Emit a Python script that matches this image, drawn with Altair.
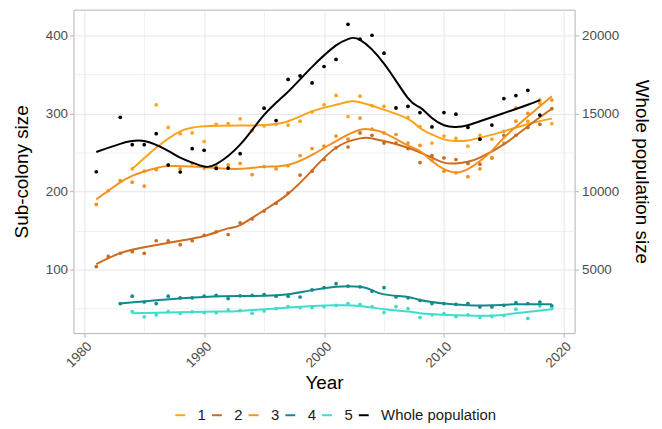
import altair as alt
import pandas as pd

# ---------------- data ----------------
series_names = ["1", "2", "3", "4", "5", "Whole population"]
series_colors = ["#FAA41B", "#CC6A1F", "#F4911E", "#118A8C", "#3FDDCC", "#000000"]

# observed sub-colony sizes
years_s1 = list(range(1984, 2020))
pts_s1 = [229, 226, 311, 282, 274, 275, 264, 286, 287, 293, 278, 284, 286, 285, 290, 302,
          311, 323, 296, 322, 310, 309, 307, 295, 283, 262, 271, 268, 258, 272, 267, 277,
          307, 290, 313, 287]

years_s2 = list(range(1981, 2020))
pts_s2 = [104, 117, 121, 123, 121, 137, 137, 132, 137, 144, 148.5, 145, 160, 165, 175, 185,
          198, 221, 226, 241, 256, 257, 275, 272, 262, 262, 255, 237, 246, 243, 241, 236,
          235, 243, 272, 272, 282, 286, 306]

years_s3 = list(range(1981, 2020))
pts_s3 = [183.5, 201, 214, 212, 207, 228, 234, 229, 236, 230, 232, 234, 236, 221.5, 232, 229,
          233, 246, 255, 258, 271, 267, 294, 280, 275, 273, 262, 259, 240, 226, 224, 219,
          229, 243, 262, 290, 300, 317, 317]

years_s4 = list(range(1983, 2020))
pts_s4 = [56.6, 66, 58.6, 56.6, 66, 64, 64, 66, 67, 63, 66.5, 67, 68, 66, 66, 65, 74, 77,
          82, 79, 78, 72.5, 77, 65, 64, 60.6, 56.6, 56.6, 55.7, 56.6, 52.3, 52.3, 54.4,
          57.8, 56.6, 58.6, 53.6]

years_s5 = list(range(1984, 2020))
pts_s5 = [46.4, 39.6, 42.2, 46.4, 44, 46, 45, 45, 48.5, 47.5, 44.3, 47.2, 50.2, 52.7, 51.5,
          51.5, 52.7, 54.4, 56.6, 55.5, 52.7, 45.2, 52.7, 50.2, 38.8, 42.2, 43.7, 40, 42.2,
          38.8, 40, 41.2, 49.4, 37.6, 53.6, 50.2]

# observed whole population size
years_whole = [1981, 1983, 1984, 1985, 1986, 1987, 1988, 1989, 1990, 1991, 1992, 1993,
               1995, 1996, 1997, 1998, 1999, 2000, 2001, 2002, 2003, 2004, 2005, 2006,
               2007, 2008, 2009, 2010, 2011, 2012, 2013, 2014, 2015, 2016, 2017, 2018]
pts_whole = [11265, 14750, 13000, 13000, 13700, 11690, 11250, 12740, 12640, 11475, 11500,
             12425, 15335, 14540, 17170, 17400, 16950, 18000, 18450, 20700, 19750, 20000,
             18850, 15350, 15450, 15050, 14135, 15050, 14950, 14100, 13350, 14250, 15950,
             16140, 16475, 14890]

# smoothed trends
fit_years_s1 = [1984, 1986, 1988, 1990, 1993, 1995, 1997, 1999, 2001, 2002, 2003, 2005,
                2007, 2008, 2009, 2010, 2011, 2012, 2013, 2015, 2017, 2019]
fit_s1 = [228.7, 256, 277, 283.5, 284.5, 285, 290, 302.5, 311, 315, 314.3, 304.7, 293,
          281.4, 273, 266.7, 264.6, 265.4, 268.8, 277, 286.5, 293.3]

fit_years_s2 = [1981, 1983, 1985, 1988, 1990, 1992, 1993, 1995, 1997, 1999, 2001, 2003,
                2004, 2005, 2007, 2008, 2009, 2010, 2011, 2012, 2013, 2015, 2017, 2019]
fit_s2 = [107.2, 121.1, 128.7, 137.1, 143, 152.8, 157, 176, 197, 227, 256, 268, 268,
          264.6, 256, 249.8, 243.4, 237, 236, 238, 243.4, 260.4, 283.5, 306]

fit_years_s3 = [1981, 1982, 1983, 1984, 1985, 1986, 1987, 1989, 1991, 1993, 1995, 1997,
                1999, 2001, 2003, 2004, 2005, 2007, 2008, 2009, 2010, 2011, 2012, 2013,
                2014, 2015, 2017, 2019]
fit_s3 = [190, 201, 211.8, 220, 225.7, 230, 232.5, 232, 230, 229, 231.6, 234, 246.8,
          264.6, 279, 279, 275, 259, 251.9, 239, 228.7, 224.5, 228.7, 239, 252, 268.8,
          296, 322]

fit_years_s4 = [1983, 1986, 1990, 1993, 1995, 1997, 1999, 2001, 2002, 2003, 2004, 2005,
                2007, 2008, 2010, 2012, 2014, 2016, 2019]
fit_s4 = [56.6, 60.8, 65, 66.2, 66.5, 68.4, 73.8, 78, 78.9, 78, 73.8, 68.4, 65, 61.1,
          56.6, 54.4, 54.4, 55.7, 55.7]

fit_years_s5 = [1984, 1988, 1991, 1993, 1997, 2001, 2003, 2005, 2007, 2008, 2010, 2012,
                2014, 2016, 2019]
fit_s5 = [44.3, 45.5, 46.5, 47.2, 51.5, 54.4, 53.5, 49.4, 46.5, 44.3, 42.2, 41.2, 41.2,
          44.3, 49.4]

fit_years_whole = [1981, 1983, 1985, 1987, 1988, 1989, 1990, 1991, 1993, 1995, 1997, 1999,
                   2001, 2002, 2003, 2005, 2007, 2008, 2009, 2010, 2011, 2012, 2013, 2015,
                   2017, 2018]
fit_whole = [12530, 13050, 13230, 12600, 12170, 11850, 11600, 11750, 13000, 14900, 16390,
             17975, 19350, 19750, 19700, 18185, 15970, 15380, 14700, 14240, 14135, 14240,
             14500, 15020, 15550, 15850]

x_ticks = [1980, 1985, 1990, 1995, 2000, 2005, 2010, 2015, 2020]
y_ticks = [50, 100, 150, 200, 250, 300, 350, 400]
y2_ticks = [5000, 10000, 15000, 20000]

# ---------------- tables ----------------
def long(pairs):
    rows = []
    for name, ys, vs in pairs:
        for y, v in zip(ys, vs):
            rows.append({"year": y, "value": v, "series": name})
    return pd.DataFrame(rows)

sub_pts = long([("1", years_s1, pts_s1), ("2", years_s2, pts_s2), ("3", years_s3, pts_s3),
                ("4", years_s4, pts_s4), ("5", years_s5, pts_s5)])
sub_fit = long([("1", fit_years_s1, fit_s1), ("2", fit_years_s2, fit_s2),
                ("3", fit_years_s3, fit_s3), ("4", fit_years_s4, fit_s4),
                ("5", fit_years_s5, fit_s5)])
whole_pts = long([("Whole population", years_whole, pts_whole)])
whole_fit = long([("Whole population", fit_years_whole, fit_whole)])

# ---------------- encodings ----------------
FONT = "Liberation Sans"
x_enc = alt.X(
    "year:Q",
    scale=alt.Scale(domain=[1979.1, 2020.9], nice=False, zero=False),
    axis=alt.Axis(
        values=x_ticks,
        labelExpr="datum.value % 10 === 0 ? datum.label : ''",
        format="d",
        labelAngle=315,
        labelAlign="right",
        labelBaseline="top",
        labelPadding=2,
        tickSize=4,
        tickOpacity={"condition": {"test": "datum.value % 10 === 0", "value": 1}, "value": 0},
        gridWidth={"condition": {"test": "datum.value % 10 === 0", "value": 1}, "value": 0.6},
        titlePadding=4,
    ),
    title="Year",
)

color_enc = alt.Color(
    "series:N",
    scale=alt.Scale(domain=series_names, range=series_colors),
    legend=alt.Legend(
        orient="none",
        direction="horizontal",
        legendX=100,
        legendY=401,
        title=None,
        symbolType="stroke",
        symbolStrokeWidth=2,
        symbolSize=100,
        labelFontSize=15,
        labelFont=FONT,
        labelColor="#1A1A1A",
        columnPadding=1,
        labelOffset=10,
    ),
)

y_left = alt.Y(
    "value:Q",
    scale=alt.Scale(domain=[18.8, 432.8], nice=False, zero=False),
    axis=alt.Axis(
        values=y_ticks,
        labelExpr="datum.value % 100 === 0 ? datum.label : ''",
        tickSize=4,
        labelPadding=2,
        tickOpacity={"condition": {"test": "datum.value % 100 === 0", "value": 1}, "value": 0},
        gridWidth={"condition": {"test": "datum.value % 100 === 0", "value": 1}, "value": 0.6},
        titlePadding=14,
    ),
    title="Sub-colony size",
)

y_right = alt.Y(
    "value:Q",
    scale=alt.Scale(domain=[940, 21640], nice=False, zero=False),
    axis=alt.Axis(
        orient="right",
        values=y2_ticks,
        format="d",
        grid=False,
        tickSize=4,
        labelPadding=3,
        titlePadding=13,
    ),
    title="Whole population size",
)

left = alt.layer(
    alt.Chart(sub_pts).mark_circle(size=14, opacity=1).encode(x=x_enc, y=y_left, color=color_enc),
    alt.Chart(sub_fit).mark_line(strokeWidth=2, interpolate="natural").encode(
        x=x_enc, y=y_left, color=color_enc),
)
right = alt.layer(
    alt.Chart(whole_pts).mark_circle(size=14, opacity=1).encode(x=x_enc, y=y_right, color=color_enc),
    alt.Chart(whole_fit).mark_line(strokeWidth=2, interpolate="natural").encode(
        x=x_enc, y=y_right, color=color_enc),
)

chart = (
    alt.layer(left, right)
    .resolve_scale(y="independent")
    .properties(
        width=505,
        height=326,
        autosize=alt.AutoSizeParams(type="none"),
        padding={"left": 66, "top": 0, "right": 80, "bottom": 95},
    )
    .configure_view(stroke="#B3B3B3", strokeWidth=1)
    .configure_axis(
        domain=False,
        gridColor="#E6E6E6",
        tickColor="#B3B3B3",
        labelFont=FONT,
        labelFontSize=13.5,
        labelColor="#4D4D4D",
        titleFont=FONT,
        titleFontSize=19,
        titleFontWeight="normal",
        titleColor="#000000",
    )
    .configure_legend(labelFontSize=15, labelFont=FONT, labelColor="#1A1A1A")
)

chart.save("out.html", embed_options={"renderer": "svg", "actions": False})
